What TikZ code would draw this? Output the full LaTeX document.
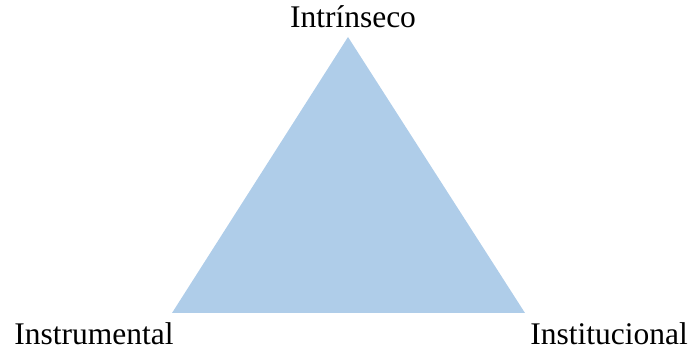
\documentclass[tikz,border=0pt]{standalone}
\usepackage{fontspec}
\setmainfont{Liberation Serif}
\definecolor{triblue}{RGB}{175,205,233}
\begin{document}
\begin{tikzpicture}[x=1pt,y=1pt,
  lbl/.style={anchor=base,inner sep=0pt,text depth=0pt,font=\fontsize{31.5}{36}\selectfont}]
\useasboundingbox (0,0) rectangle (688,348);
\coordinate (top) at (348,311);
\coordinate (bl) at (172,35);
\coordinate (br) at (525,35);
\fill[triblue] (top) -- (bl) -- (br) -- cycle;
\node[lbl] (intr) at (353,320) {Intrínseco};
\node[lbl] (instr) at (94,3.5) {Instrumental};
\node[lbl] (inst) at (609,3.5) {Institucional};
\end{tikzpicture}
\end{document}
